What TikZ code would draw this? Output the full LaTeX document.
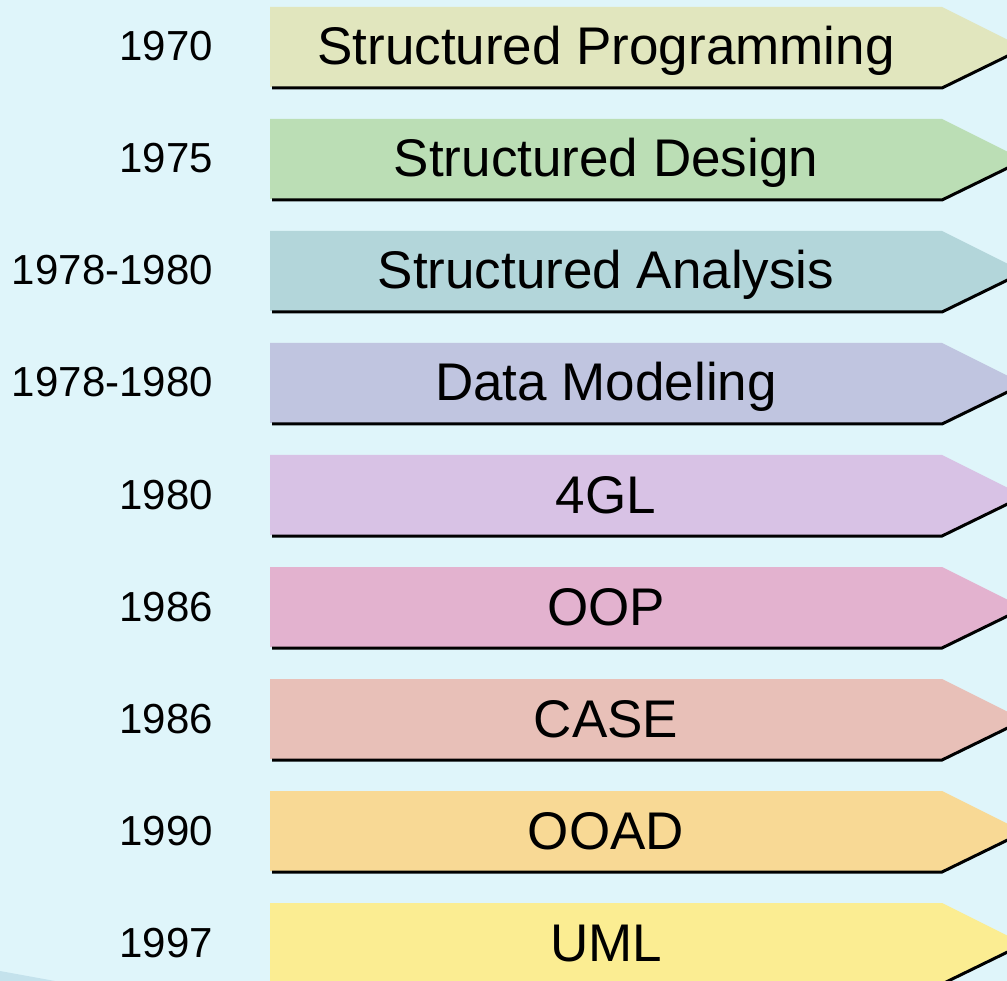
\documentclass[tikz,border=0pt]{standalone}
\usepackage{fontspec}
\setmainfont{Liberation Sans}
\begin{document}
\begin{tikzpicture}[x=1pt, y=-1pt]
% Timeline of methods, one arrow per row
\providecommand{\barLeft}{270}
\providecommand{\barCorner}{942}
\providecommand{\barTip}{1022}
\providecommand{\barShadowColor}{black}
\providecommand{\barShadowWidth}{3pt}
\tikzset{
  yearlabel/.style={anchor=base east, inner sep=0pt, font=\fontsize{42}{50}\selectfont},
  methodlabel/.style={anchor=base, inner sep=0pt, font=\fontsize{53}{60}\selectfont},
  barshadow/.style={draw=\barShadowColor, line width=\barShadowWidth, line join=miter},
}
\newcommand{\methodbar}[2]{%
  \fill[fill={#2}] (\barLeft,#1) -- (\barCorner,#1) -- (\barTip,#1+40) -- (\barCorner,#1+80) -- (\barLeft,#1+80) -- cycle;
  \draw[barshadow] (\barLeft+2,#1+81) -- (\barCorner,#1+81) -- (\barTip+2,#1+41);
}
\path[clip] (0,0) rectangle (1007,981);
% Background
\fill[fill={rgb,255:red,223;green,245;blue,250}] (0,0) rectangle (1007,981);
\fill[fill={rgb,255:red,196;green,226;blue,236}] (0,971) -- (55,981) -- (0,981) -- cycle;
% Bars
\methodbar{7}{rgb,255:red,225;green,230;blue,190}
\methodbar{119}{rgb,255:red,187;green,222;blue,181}
\methodbar{231}{rgb,255:red,179;green,214;blue,218}
\methodbar{343}{rgb,255:red,192;green,197;blue,224}
\methodbar{455}{rgb,255:red,216;green,194;blue,229}
\methodbar{567}{rgb,255:red,227;green,178;blue,207}
\methodbar{679}{rgb,255:red,232;green,192;blue,184}
\methodbar{791}{rgb,255:red,248;green,217;blue,149}
\methodbar{903}{rgb,255:red,251;green,237;blue,146}
% Method names
\node[methodlabel] (sp) at (606,65) {Structured Programming};
\node[methodlabel] (sd) at (606,177) {Structured Design};
\node[methodlabel] (sa) at (606,289) {Structured Analysis};
\node[methodlabel] (dm) at (606,401) {Data Modeling};
\node[methodlabel] (gl) at (606,513) {4GL};
\node[methodlabel] (oop) at (606,625) {OOP};
\node[methodlabel] (case) at (606,737) {CASE};
\node[methodlabel] (ooad) at (606,849) {OOAD};
\node[methodlabel] (uml) at (606,961) {UML};
% Years
\node[yearlabel] (sp-year) at (213,61) {1970};
\node[yearlabel] (sd-year) at (213,173) {1975};
\node[yearlabel] (sa-year) at (213,285) {1978-1980};
\node[yearlabel] (dm-year) at (213,397) {1978-1980};
\node[yearlabel] (gl-year) at (213,509) {1980};
\node[yearlabel] (oop-year) at (213,621) {1986};
\node[yearlabel] (case-year) at (213,733) {1986};
\node[yearlabel] (ooad-year) at (213,845) {1990};
\node[yearlabel] (uml-year) at (213,957) {1997};
\end{tikzpicture}
\end{document}
